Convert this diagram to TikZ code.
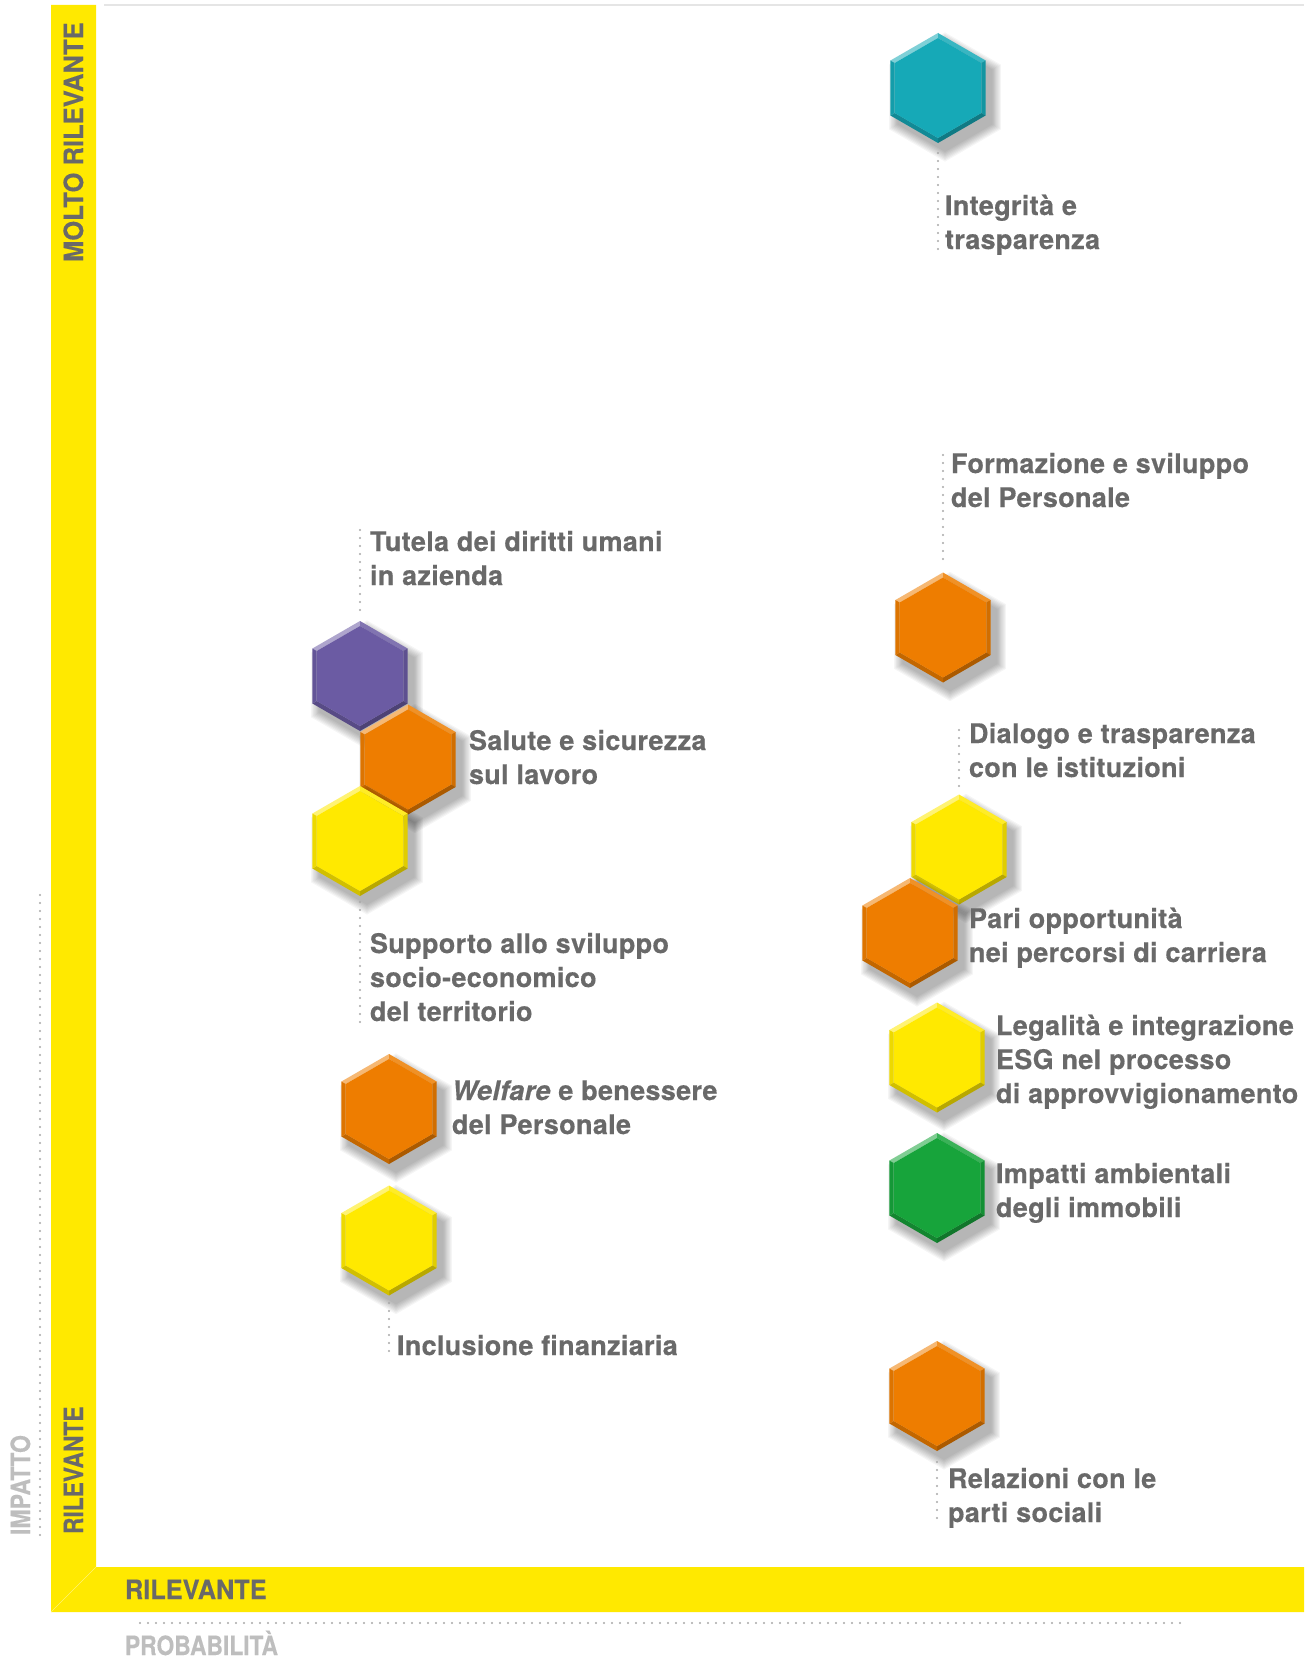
\documentclass[tikz,border=0pt]{standalone}
\usepackage{fontspec}
\setmainfont{TeX Gyre Heros}
\newfontfamily\lblfont{TeX Gyre Heros}[LetterSpace=1.2,FakeBold=0.4]
\newfontfamily\axfont{TeX Gyre Heros}[FakeBold=0.3]
\usepackage{graphicx}
\definecolor{cteal}{HTML}{16A9B7}
\definecolor{corange}{HTML}{EE7D00}
\definecolor{cpurple}{HTML}{6B5BA3}
\definecolor{cyellow}{HTML}{FFE900}
\definecolor{cgreen}{HTML}{17A43B}
\definecolor{txtgray}{HTML}{696969}
\definecolor{axgray}{HTML}{BEBEBE}
\definecolor{dotgray}{HTML}{A8A8A8}
\newcommand\twoL[2]{\vtop{\hbox{#1}\hbox{#2}}}
\newcommand\threeL[3]{\vtop{\hbox{#1}\hbox{#2}\hbox{#3}}}
\tikzset{
  lbl/.style={anchor=base west, inner sep=0pt, outer sep=0pt, text=txtgray,
    font=\lblfont\fontsize{27}{34}\selectfont\bfseries},
  axl/.style={anchor=base west, inner sep=0pt, outer sep=0pt, text=txtgray,
    font=\axfont\fontsize{26.5}{30}\selectfont\bfseries},
  axg/.style={anchor=base west, inner sep=0pt, outer sep=0pt, text=axgray,
    font=\axfont\fontsize{26.5}{30}\selectfont\bfseries},
  dotline/.style={draw=dotgray, line width=2.4pt, line cap=round, dash pattern=on 0pt off 8pt},
  pics/hexa/.style={code={
    \foreach \k in {0,...,7}{
      \fill[black, opacity=0.04, shift={(7,9)}, scale={1+0.025*\k}]
        (0,-55)--(47.6,-27.5)--(47.6,27.5)--(0,55)--(-47.6,27.5)--(-47.6,-27.5)--cycle;
    }
    \fill[#1!55!white] (0,-55)--(-47.6,-27.5)--(-43.3,-25)--(0,-50)--cycle;
    \fill[#1!85!white] (0,-55)--(47.6,-27.5)--(43.3,-25)--(0,-50)--cycle;
    \fill[#1!88!black] (47.6,-27.5)--(47.6,27.5)--(43.3,25)--(43.3,-25)--cycle;
    \fill[#1!72!black] (47.6,27.5)--(0,55)--(0,50)--(43.3,25)--cycle;
    \fill[#1!82!black] (0,55)--(-47.6,27.5)--(-43.3,25)--(0,50)--cycle;
    \fill[#1!93!black] (-47.6,27.5)--(-47.6,-27.5)--(-43.3,-25)--(-43.3,25)--cycle;
    \fill[#1] (0,-50)--(43.3,-25)--(43.3,25)--(0,50)--(-43.3,25)--(-43.3,-25)--cycle;
  }}
}
\begin{document}
\begin{tikzpicture}[x=1pt, y=-1pt]
\useasboundingbox (0,0) rectangle (1304,1659);
\fill[white] (0,0) rectangle (1304,1659);

% frame
\draw[line width=2pt, color=black!10] (104,5) -- (1304,5);
\fill[cyellow] (51,5) -- (96,5) -- (96,1567) -- (51,1612) -- cycle;
\fill[cyellow] (51,1612) -- (96,1567) -- (1304,1567) -- (1304,1612) -- cycle;
\draw[white, opacity=0.35, line width=0.6pt] (51,1612) -- (96,1567);

% axis labels
\node[axl, rotate=90] (mr) at (83,262) {\scalebox{0.965}[1]{MOLTO RILEVANTE}};
\node[axl, rotate=90] (rv) at (83,1534) {\scalebox{0.86}[1]{RILEVANTE}};
\node[axl] (rh) at (125,1599) {\scalebox{0.955}[1]{RILEVANTE}};
\node[axg, rotate=90] (imp) at (30,1535) {\scalebox{0.87}[1]{IMPATTO}};
\node[axg] (prob) at (125,1655) {\scalebox{0.86}[1]{PROBABILITÀ}};
\coordinate (ia) at (40,895);
\coordinate (ib) at (40,1535);
\coordinate (pa) at (140,1623);
\coordinate (pb) at (1182,1623);
\draw[dotline] (ia) -- (ib);
\draw[dotline] (pa) -- (pb);

% hexagon centres
\coordinate (hInt) at (938,88);
\coordinate (hFor) at (943,627.5);
\coordinate (hTut) at (360,676);
\coordinate (hSal) at (408,759.5);
\coordinate (hSup) at (360,841);
\coordinate (hDia) at (959,849.5);
\coordinate (hPar) at (910,933);
\coordinate (hLeg) at (937,1057.5);
\coordinate (hImp) at (937,1188);
\coordinate (hWel) at (389,1109);
\coordinate (hInc) at (389,1240.5);
\coordinate (hRel) at (937,1396);

\pic at (hInt) {hexa=cteal};
\pic at (hFor) {hexa=corange};
\pic at (hTut) {hexa=cpurple};
\pic at (hSal) {hexa=corange};
\pic at (hSup) {hexa=cyellow};
\pic at (hDia) {hexa=cyellow};
\pic at (hPar) {hexa=corange};
\pic at (hLeg) {hexa=cyellow};
\pic at (hImp) {hexa=cgreen};
\pic at (hWel) {hexa=corange};
\pic at (hInc) {hexa=cyellow};
\pic at (hRel) {hexa=corange};

% labels
\node[lbl] (tInt) at (945,215) {\twoL{Integrità e}{trasparenza}};
\node[lbl] (tFor) at (951,473) {\twoL{Formazione e sviluppo}{del Personale}};
\node[lbl] (tTut) at (370,551) {\twoL{Tutela dei diritti umani}{in azienda}};
\node[lbl] (tSal) at (469,750) {\twoL{Salute e sicurezza}{sul lavoro}};
\node[lbl] (tSup) at (370,953) {\threeL{Supporto allo sviluppo}{socio-economico}{del territorio}};
\node[lbl] (tDia) at (969,743) {\twoL{Dialogo e trasparenza}{con le istituzioni}};
\node[lbl] (tPar) at (969,928) {\twoL{Pari opportunità}{nei percorsi di carriera}};
\node[lbl] (tLeg) at (996,1035) {\threeL{Legalità e integrazione}{ESG nel processo}{di approvvigionamento}};
\node[lbl] (tImp) at (996,1183) {\twoL{Impatti ambientali}{degli immobili}};
\node[lbl] (tWel) at (452,1100) {\twoL{{\itshape Welfare} e benessere}{del Personale}};
\node[lbl] (tInc) at (397,1355) {Inclusione finanziaria};
\node[lbl] (tRel) at (948,1488) {\twoL{Relazioni con le}{parti sociali}};

% dotted leaders
\coordinate (dIntA) at (938,153); \coordinate (dIntB) at (938,249);
\coordinate (dForA) at (943,455); \coordinate (dForB) at (943,565);
\coordinate (dTutA) at (360,530); \coordinate (dTutB) at (360,615);
\coordinate (dSupA) at (360,902); \coordinate (dSupB) at (360,1022);
\coordinate (dDiaA) at (959,730); \coordinate (dDiaB) at (959,790);
\coordinate (dIncA) at (389,1303); \coordinate (dIncB) at (389,1355);
\coordinate (dRelA) at (937,1462); \coordinate (dRelB) at (937,1522);
\draw[dotline] (dIntA) -- (dIntB);
\draw[dotline] (dForA) -- (dForB);
\draw[dotline] (dTutA) -- (dTutB);
\draw[dotline] (dSupA) -- (dSupB);
\draw[dotline] (dDiaA) -- (dDiaB);
\draw[dotline] (dIncA) -- (dIncB);
\draw[dotline] (dRelA) -- (dRelB);
\end{tikzpicture}
\end{document}
